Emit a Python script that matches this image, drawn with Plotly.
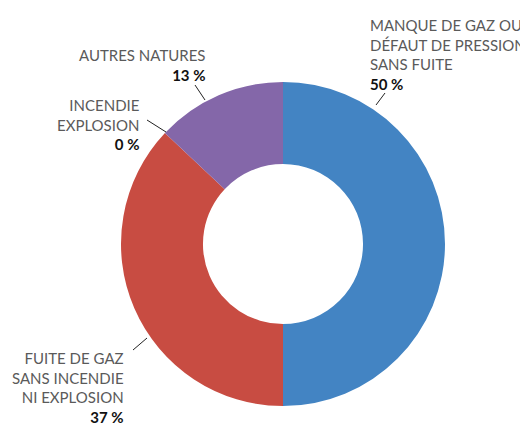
import plotly.graph_objects as go

categories = ["MANQUE DE GAZ OU<br>DÉFAUT DE PRESSION<br>SANS FUITE",
              "FUITE DE GAZ<br>SANS INCENDIE<br>NI EXPLOSION",
              "INCENDIE<br>EXPLOSION",
              "AUTRES NATURES"]
values = [50, 37, 0, 13]
colors = ["#4384c3", "#c84c42", "#d45148", "#8467a9"]

# page has an 8px body margin: figure drawn from (8, 8) in the window
OFF = 8
W, H = 528 - OFF, 427 - OFF
cx, cy, R = 283, 244, 162


def px(x, y):
    return (x - OFF) / W, 1 - (y - OFF) / H


x0, y0 = px(cx - R, cy + R)
x1, y1 = px(cx + R, cy - R)

fig = go.Figure(go.Pie(
    labels=categories, values=values, hole=0.494, sort=False,
    direction="clockwise", rotation=0,
    marker=dict(colors=colors, line=dict(width=0)),
    textinfo="none", hoverinfo="label+percent", showlegend=False,
    domain=dict(x=[x0, x1], y=[y0, y1]),
))

FONT = "Lato"
GRAY = "#5a5a5a"

label_pos = [
    (368, 14, "left", "top"),
    (126, 428, "right", "bottom"),
    (141, 155, "right", "bottom"),
    (207, 86, "right", "bottom"),
]
for cat, v, (x, y, al, va) in zip(categories, values, label_pos):
    xp, yp = px(x, y)
    txt = f"<span style='color:{GRAY}'>{cat}</span><br><b>{v} %</b>"
    fig.add_annotation(x=xp, y=yp, xref="paper", yref="paper", text=txt,
                       showarrow=False, xanchor=al, yanchor=va, align=al,
                       font=dict(family=FONT, size=15, color="#111111"))

leaders = [((385, 93), (376, 105)), ((133, 350), (147, 338)),
           ((147, 120), (166, 132)), ((195, 85), (205, 100))]
for (a0, b0), (a1, b1) in leaders:
    p = px(a0, b0)
    q = px(a1, b1)
    fig.add_shape(type="line", xref="paper", yref="paper",
                  x0=p[0], y0=p[1], x1=q[0], y1=q[1],
                  line=dict(color="#222222", width=1))

fig.update_layout(width=W, height=H, margin=dict(l=0, r=0, t=0, b=0),
                  paper_bgcolor="white", plot_bgcolor="white")
fig.write_html("out.html")
